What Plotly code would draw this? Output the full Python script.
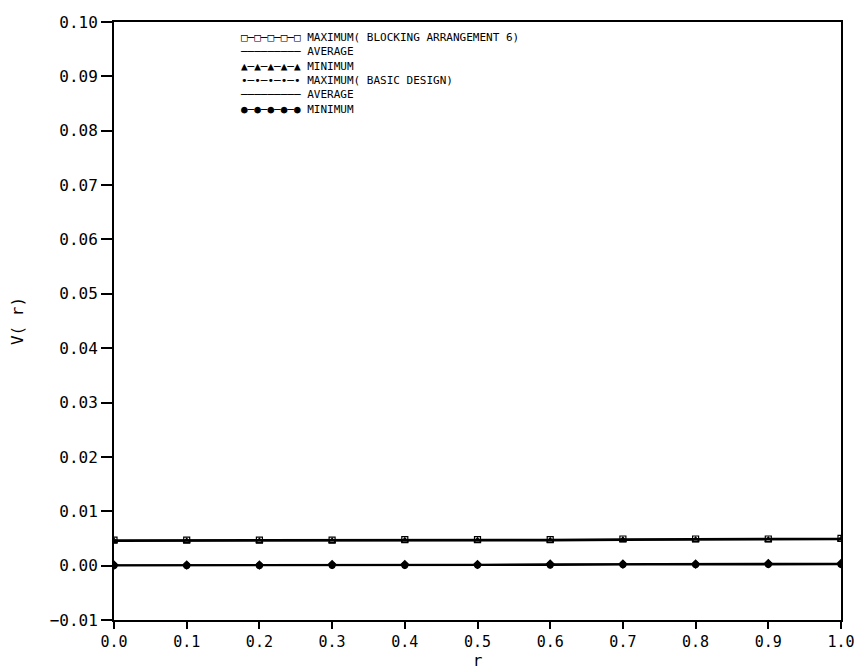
import plotly.graph_objects as go

r = [0.0, 0.1, 0.2, 0.3, 0.4, 0.5, 0.6, 0.7, 0.8, 0.9, 1.0]
max_block = [0.0047, 0.0047, 0.0047, 0.0047, 0.0048, 0.0048, 0.0048, 0.0049, 0.0049, 0.0049, 0.0050]
avg_block = [0.0046, 0.0046, 0.0046, 0.0046, 0.0047, 0.0047, 0.0047, 0.0048, 0.0048, 0.0048, 0.0049]
min_block = [0.0045, 0.0045, 0.0045, 0.0045, 0.0046, 0.0046, 0.0046, 0.0047, 0.0047, 0.0047, 0.0048]
max_basic = [0.0001, 0.0001, 0.0001, 0.0002, 0.0002, 0.0002, 0.0003, 0.0003, 0.0003, 0.0004, 0.0004]
avg_basic = [0.00005, 0.00005, 0.0001, 0.0001, 0.0001, 0.00015, 0.0002, 0.0002, 0.00025, 0.0003, 0.0003]
min_basic = [0.0, 0.0, 0.0, 0.00005, 0.00005, 0.0001, 0.0001, 0.00015, 0.00015, 0.0002, 0.0002]

names = ["MAXIMUM( BLOCKING ARRANGEMENT 6)", "AVERAGE", "MINIMUM",
         "MAXIMUM( BASIC DESIGN)", "AVERAGE", "MINIMUM"]
series = [max_block, avg_block, min_block, max_basic, avg_basic, min_basic]
symbols = ["square-open", None, "triangle-up-open", "diamond", None, "circle"]
legend_samples = ["□─□─□─□─□", "─────────", "▲─▲─▲─▲─▲",
                  "•─•─•─•─•", "─────────", "●─●─●─●─●"]
xtick_labels = ["0.0", "0.1", "0.2", "0.3", "0.4", "0.5", "0.6", "0.7", "0.8", "0.9", "1.0"]

fig = go.Figure()
for name, ys, sym in zip(names, series, symbols):
    if sym is None:
        fig.add_trace(go.Scatter(x=r, y=ys, name=name, mode="lines", showlegend=False,
                                 line=dict(color="black", width=1.2)))
    else:
        fig.add_trace(go.Scatter(x=r, y=ys, name=name, mode="lines+markers", showlegend=False,
                                 line=dict(color="black", width=1.6),
                                 marker=dict(symbol=sym, size=6, color="black",
                                             line=dict(color="black", width=1.2))))

font = "DejaVu Sans Mono"
legend_text = "<br>".join(f"{s} {n}" for s, n in zip(legend_samples, names))
fig.add_annotation(x=0.171, y=0.988, xref="paper", yref="paper",
                   xanchor="left", yanchor="top", align="left", showarrow=False,
                   text=legend_text, font=dict(family=font, size=11, color="black"))

fig.update_layout(
    width=855, height=662,
    margin=dict(l=106, r=22, t=14, b=50),
    paper_bgcolor="white", plot_bgcolor="white",
    font=dict(family=font, color="black", size=14),
    showlegend=False,
    xaxis=dict(range=[0, 1.0], tickvals=r, ticktext=xtick_labels,
               showgrid=False, zeroline=False, showline=True, linecolor="black",
               linewidth=2, mirror=True, ticks="outside", ticklen=7, tickwidth=1.5,
               tickcolor="black", tickfont=dict(family=font, size=15),
               automargin=False,
               title=dict(text="r", font=dict(family=font, size=16), standoff=2)),
    yaxis=dict(range=[-0.01, 0.10], dtick=0.01, tickformat=".2f",
               showgrid=False, zeroline=False, showline=True, linecolor="black",
               linewidth=2, mirror=True, ticks="outside", ticklen=11, tickwidth=1.5,
               tickcolor="black", tickfont=dict(family=font, size=16),
               automargin=False,
               title=dict(text="V( r)", font=dict(family=font, size=16), standoff=30)),
)

fig.write_html("out.html")
